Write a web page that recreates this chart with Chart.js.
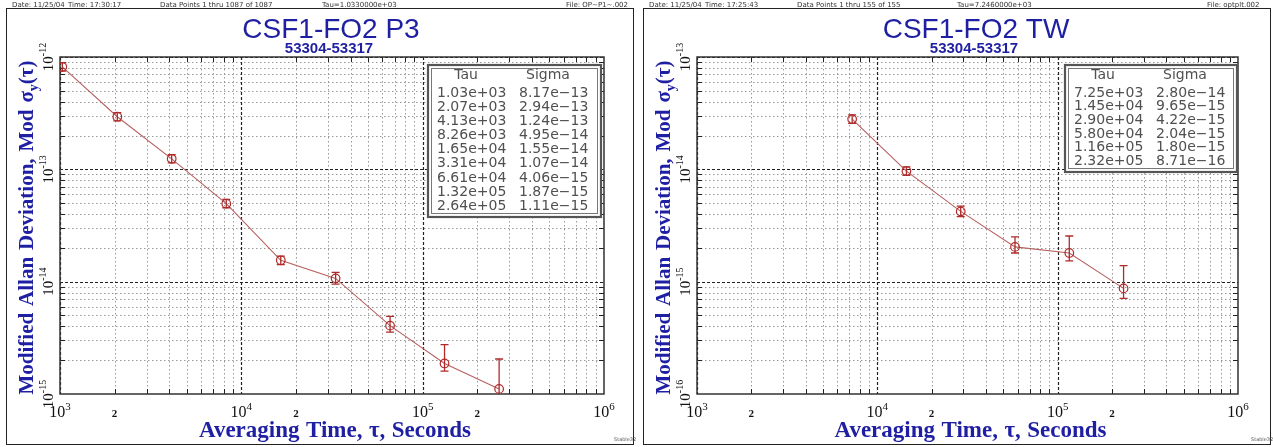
<!DOCTYPE html>
<html><head><meta charset="utf-8">
<script src="https://cdn.jsdelivr.net/npm/chart.js@4/dist/chart.umd.min.js"></script>
<style>
html,body{margin:0;padding:0;background:#fff;width:1273px;height:447px;overflow:hidden}
.p{position:absolute;top:0;width:636px;height:447px}
canvas{display:block}
</style></head><body>
<div class="p" style="left:0"><canvas id="c1" width="636" height="447" style="width:636px;height:447px"></canvas></div>
<div class="p" style="left:637px"><canvas id="c2" width="636" height="447" style="width:636px;height:447px"></canvas></div>
<script>
// ---------- data: CSF1-FO2 P3 ----------
const p3Tau   = [1.03e3, 2.07e3, 4.13e3, 8.26e3, 1.65e4, 3.31e4, 6.61e4, 1.32e5, 2.64e5];
const p3Sigma = [8.17e-13, 2.94e-13, 1.24e-13, 4.95e-14, 1.55e-14, 1.07e-14, 4.06e-15, 1.87e-15, 1.11e-15];
const p3ErrHi = [8.9e-13, 3.2e-13, 1.35e-13, 5.4e-14, 1.69e-14, 1.21e-14, 4.9e-15, 2.75e-15, 2.05e-15];
const p3ErrLo = [7.5e-13, 2.7e-13, 1.14e-13, 4.55e-14, 1.42e-14, 0.95e-14, 3.55e-15, 1.6e-15, 0.85e-15];
const p3TauText   = ['1.03e+03','2.07e+03','4.13e+03','8.26e+03','1.65e+04','3.31e+04','6.61e+04','1.32e+05','2.64e+05'];
const p3SigmaText = ['8.17e\u221213','2.94e\u221213','1.24e\u221213','4.95e\u221214','1.55e\u221214','1.07e\u221214','4.06e\u221215','1.87e\u221215','1.11e\u221215'];
const p3YDecades = [1e-15, 1e-14, 1e-13, 1e-12];
const p3YExp = ['-15','-14','-13','-12'];

// ---------- data: CSF1-FO2 TW ----------
const twTau   = [7.25e3, 1.45e4, 2.90e4, 5.80e4, 1.16e5, 2.32e5];
const twSigma = [2.80e-14, 9.65e-15, 4.22e-15, 2.04e-15, 1.80e-15, 8.71e-16];
const twErrHi = [3.05e-14, 1.05e-14, 4.7e-15, 2.5e-15, 2.55e-15, 1.39e-15];
const twErrLo = [2.57e-14, 8.85e-15, 3.8e-15, 1.8e-15, 1.53e-15, 7.1e-16];
const twTauText   = ['7.25e+03','1.45e+04','2.90e+04','5.80e+04','1.16e+05','2.32e+05'];
const twSigmaText = ['2.80e\u221214','9.65e\u221215','4.22e\u221215','2.04e\u221215','1.80e\u221215','8.71e\u221216'];
const twYDecades = [1e-16, 1e-15, 1e-14, 1e-13];
const twYExp = ['-16','-15','-14','-13'];

// ---------- shared x axis ----------
const xDecades = [1e3, 1e4, 1e5, 1e6];
const xDecadeExp = ['3','4','5','6'];
const xTwoTicks = [2e3, 2e4, 2e5];
const minorMultipliers = [2,3,4,5,6,7,8,9];

const BLUE = '#1f1fa3';
const SERIF = '"Liberation Serif","DejaVu Serif",serif';
const SANS = '"Liberation Sans",Arial,sans-serif';
const TSANS = '"DejaVu Sans",sans-serif';

function fitWords(ctx, words, font, target) {
  ctx.font = font;
  const ws = words.map(w => ctx.measureText(w).width);
  const sum = ws.reduce((a,b)=>a+b,0);
  const gap = (target - sum) / (words.length - 1);
  return {ws, gap};
}

function makePlugin(o) {
  return {
    id: 'deco_' + o.id,
    beforeDatasetsDraw(chart) {
      const ctx = chart.ctx, a = chart.chartArea, xs = chart.scales.x, ys = chart.scales.y;
      ctx.save();
      ctx.strokeStyle = '#222'; ctx.lineWidth = 1;
      ctx.strokeRect(6.5, 8.5, 627, 436);
      ctx.fillStyle = '#333'; ctx.font = '7px ' + TSANS; ctx.textBaseline = 'middle'; ctx.textAlign = 'left';
      o.header.forEach(h => ctx.fillText(h[0], h[1], 5));
      ctx.fillStyle = BLUE; ctx.textAlign = 'center'; ctx.textBaseline = 'alphabetic';
      ctx.font = '28px ' + SANS;
      ctx.fillText(o.title, o.titleX, 38);
      ctx.font = 'bold 15px ' + SANS;
      ctx.fillText(o.subtitle, o.titleX - 2, 53);

      ctx.beginPath(); ctx.rect(a.left, a.top, a.right - a.left, a.bottom - a.top); ctx.clip();
      const yMinE = Math.round(Math.log10(ys.min)), yMaxE = Math.round(Math.log10(ys.max));
      ctx.lineWidth = 1;
      ctx.strokeStyle = '#999'; ctx.setLineDash([1.5, 2.5]);
      for (let e = yMinE; e < yMaxE; e++) for (const m of minorMultipliers) {
        const py = Math.round(ys.getPixelForValue(m * Math.pow(10, e))) + 0.5;
        ctx.beginPath(); ctx.moveTo(a.left, py); ctx.lineTo(a.right, py); ctx.stroke();
      }
      for (let i = 0; i < xDecades.length - 1; i++) for (const m of minorMultipliers) {
        const px = Math.round(xs.getPixelForValue(m * xDecades[i])) + 0.5;
        ctx.beginPath(); ctx.moveTo(px, a.top); ctx.lineTo(px, a.bottom); ctx.stroke();
      }
      ctx.strokeStyle = '#222'; ctx.setLineDash([3, 2]); ctx.lineWidth = 1.2;
      o.yDec.forEach(v => {
        const py = Math.round(ys.getPixelForValue(v)) + 0.5;
        ctx.beginPath(); ctx.moveTo(a.left, py); ctx.lineTo(a.right, py); ctx.stroke();
      });
      xDecades.forEach(v => {
        const px = Math.round(xs.getPixelForValue(v)) + 0.5;
        ctx.beginPath(); ctx.moveTo(px, a.top); ctx.lineTo(px, a.bottom); ctx.stroke();
      });
      ctx.restore();
      ctx.save();
      ctx.setLineDash([]);
      ctx.strokeStyle = '#222'; ctx.lineWidth = 1;
      for (let i = 0; i < xDecades.length - 1; i++) for (const m of minorMultipliers) {
        const px = Math.round(xs.getPixelForValue(m * xDecades[i])) + 0.5;
        ctx.beginPath(); ctx.moveTo(px, a.bottom); ctx.lineTo(px, a.bottom - 5);
        ctx.moveTo(px, a.top); ctx.lineTo(px, a.top + 5); ctx.stroke();
      }
      for (let e = yMinE; e < yMaxE; e++) for (const m of minorMultipliers) {
        const py = Math.round(ys.getPixelForValue(m * Math.pow(10, e))) + 0.5;
        ctx.beginPath(); ctx.moveTo(a.left, py); ctx.lineTo(a.left + 5, py);
        ctx.moveTo(a.right, py); ctx.lineTo(a.right - 5, py); ctx.stroke();
      }
      ctx.strokeStyle = '#333'; ctx.lineWidth = 1.5;
      ctx.strokeRect(a.left, a.top, a.right - a.left, a.bottom - a.top);

      ctx.fillStyle = '#111'; ctx.textBaseline = 'alphabetic';
      xDecades.forEach((v, i) => {
        const px = xs.getPixelForValue(v);
        ctx.font = '16px ' + SERIF; const w1 = ctx.measureText('10').width;
        ctx.font = '11px ' + SERIF; const w2 = ctx.measureText(xDecadeExp[i]).width;
        const x0 = px - (w1 + w2) / 2;
        ctx.textAlign = 'left';
        ctx.font = '16px ' + SERIF; ctx.fillText('10', x0, 417);
        ctx.font = '11px ' + SERIF; ctx.fillText(xDecadeExp[i], x0 + w1, 410);
      });
      ctx.font = 'bold 11px ' + SERIF; ctx.textAlign = 'center';
      xTwoTicks.forEach(v => ctx.fillText('2', xs.getPixelForValue(v), 417));

      o.yDec.forEach((v, i) => {
        const py = ys.getPixelForValue(v);
        ctx.save(); ctx.translate(53, py); ctx.rotate(-Math.PI / 2);
        ctx.font = '15px ' + SERIF; const w1 = ctx.measureText('10').width;
        ctx.font = '10px ' + SERIF; const w2 = ctx.measureText(o.yExp[i]).width;
        const x0 = -(w1 + w2) / 2;
        ctx.textAlign = 'left';
        ctx.font = '15px ' + SERIF; ctx.fillText('10', x0, 0);
        ctx.font = '10px ' + SERIF; ctx.fillText(o.yExp[i], x0 + w1, -7);
        ctx.restore();
      });

      ctx.fillStyle = BLUE;
      {
        const words = ['Averaging', 'Time,', '\u03c4,', 'Seconds'];
        const font = 'bold 23px ' + SERIF;
        const target = 272;
        const {ws, gap} = fitWords(ctx, words, font, target);
        let x = (a.left + a.right) / 2 + 3 - target / 2;
        ctx.textAlign = 'left';
        words.forEach((w, i) => { ctx.fillText(w, x, 437); x += ws[i] + gap; });
      }
      {
        ctx.save(); ctx.translate(33, (a.top + a.bottom) / 2 + 2); ctx.rotate(-Math.PI / 2);
        const font = 'bold 21px ' + SERIF;
        const words = ['Modified', 'Allan', 'Deviation,', 'Mod', '\u03c3'];
        ctx.font = font;
        const tail1W = ctx.measureText('(\u03c4)').width;
        ctx.font = 'bold 14px ' + SERIF;
        const subW = ctx.measureText('y').width;
        const target = 334;
        ctx.font = font;
        const ws = words.map(w => ctx.measureText(w).width);
        const sum = ws.reduce((p, c) => p + c, 0) + subW + tail1W;
        const gap = (target - sum) / (words.length - 1);
        let x = -target / 2;
        ctx.textAlign = 'left';
        words.forEach((w, i) => { ctx.fillText(w, x, 0); x += ws[i] + (i < words.length - 1 ? gap : 0); });
        ctx.font = 'bold 14px ' + SERIF; ctx.fillText('y', x, 5); x += subW;
        ctx.font = font; ctx.fillText('(\u03c4)', x, 0);
        ctx.restore();
      }

      const b = o.box;
      ctx.fillStyle = '#fff'; ctx.fillRect(b.x0, b.y0, b.x1 - b.x0, b.y1 - b.y0);
      ctx.strokeStyle = '#555'; ctx.lineWidth = 2.2;
      ctx.strokeRect(b.x0, b.y0, b.x1 - b.x0, b.y1 - b.y0);
      ctx.lineWidth = 1; ctx.strokeStyle = '#777';
      ctx.strokeRect(b.x0 + 3.5, b.y0 + 3.5, b.x1 - b.x0 - 7, b.y1 - b.y0 - 7);
      ctx.fillStyle = '#505050'; ctx.font = '14px ' + TSANS; ctx.textBaseline = 'middle';
      ctx.textAlign = 'center';
      ctx.fillText('Tau', 466, 75); ctx.fillText('Sigma', 548, 75);
      ctx.textAlign = 'left';
      o.tauText.forEach((t, i) => {
        const yy = 93 + i * o.rowStep;
        ctx.fillText(t, 437, yy); ctx.fillText(o.sigText[i], 519, yy);
      });

      ctx.fillStyle = '#555'; ctx.font = '5px ' + TSANS; ctx.textAlign = 'left'; ctx.textBaseline = 'alphabetic';
      ctx.fillText('Stable32', 614, 441);
      ctx.restore();
    },
    afterDatasetsDraw(chart) {
      const ctx = chart.ctx, a = chart.chartArea, xs = chart.scales.x, ys = chart.scales.y;
      ctx.save();
      ctx.beginPath(); ctx.rect(a.left, a.top, a.right - a.left, a.bottom - a.top); ctx.clip();
      ctx.strokeStyle = '#b02a2a'; ctx.lineWidth = 1.3;
      o.tau.forEach((t, i) => {
        const px = xs.getPixelForValue(t);
        const yh = ys.getPixelForValue(o.hi[i]), yl = ys.getPixelForValue(o.lo[i]);
        ctx.beginPath();
        ctx.moveTo(px, yh); ctx.lineTo(px, yl);
        ctx.moveTo(px - 4, yh); ctx.lineTo(px + 4, yh);
        ctx.moveTo(px - 4, yl); ctx.lineTo(px + 4, yl);
        ctx.stroke();
      });
      ctx.restore();
    }
  };
}

function makeChart(id, o) {
  return new Chart(document.getElementById(id), {
    type: 'line',
    data: { datasets: [{
      data: o.tau.map((t, i) => ({x: t, y: o.sigma[i]})),
      borderColor: '#b86060', borderWidth: 1.1, tension: 0,
      pointRadius: 4.3, pointBorderColor: '#b02a2a', pointBorderWidth: 1.2,
      pointBackgroundColor: 'rgba(0,0,0,0)'
    }]},
    options: {
      responsive: false, animation: false, devicePixelRatio: 1,
      layout: {padding: {left: 60, right: o.padRight, top: 57, bottom: 53}},
      plugins: {legend: {display: false}, tooltip: {enabled: false}},
      scales: {
        x: {type: 'logarithmic', min: 1e3, max: 1e6, display: false},
        y: {type: 'logarithmic', min: o.yDec[0], max: o.yDec[o.yDec.length - 1], display: false}
      }
    },
    plugins: [makePlugin(o)]
  });
}

makeChart('c1', {
  id: 'p3', tau: p3Tau, sigma: p3Sigma, hi: p3ErrHi, lo: p3ErrLo,
  tauText: p3TauText, sigText: p3SigmaText, yDec: p3YDecades, yExp: p3YExp,
  padRight: 32, title: 'CSF1-FO2 P3', subtitle: '53304-53317', titleX: 331,
  header: [['Date: 11/25/04', 12], ['Time: 17:30:17', 68], ['Data Points 1 thru 1087 of 1087', 160], ['Tau=1.0330000e+03', 322], ['File: OP~P1~.002', 566]],
  box: {x0: 428, y0: 65, x1: 601, y1: 217}, rowStep: 14.17
});
makeChart('c2', {
  id: 'tw', tau: twTau, sigma: twSigma, hi: twErrHi, lo: twErrLo,
  tauText: twTauText, sigText: twSigmaText, yDec: twYDecades, yExp: twYExp,
  padRight: 35, title: 'CSF1-FO2 TW', subtitle: '53304-53317', titleX: 339,
  header: [['Date: 11/25/04', 12], ['Time: 17:25:43', 68], ['Data Points 1 thru 155 of 155', 160], ['Tau=7.2460000e+03', 320], ['File: optplt.002', 570]],
  box: {x0: 428, y0: 65, x1: 600, y1: 172}, rowStep: 13.7
});
</script>
</body></html>
